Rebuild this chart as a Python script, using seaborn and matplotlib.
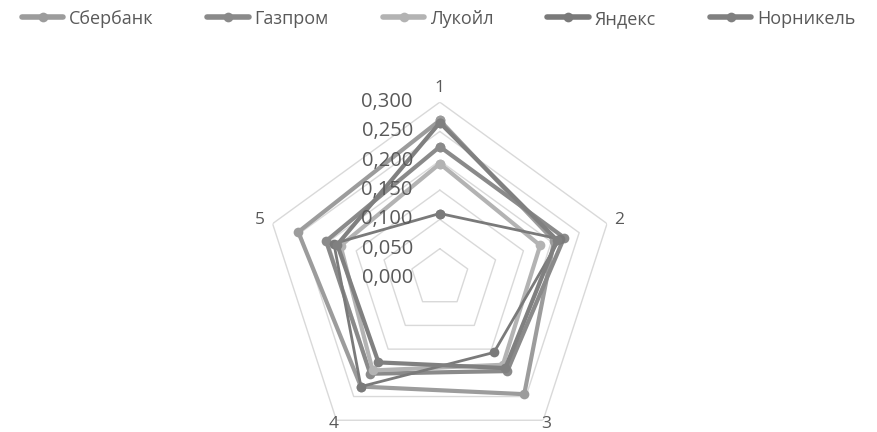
import numpy as np
import pandas as pd
import matplotlib
matplotlib.use("Agg")
import matplotlib.pyplot as plt
import seaborn as sns
from matplotlib.lines import Line2D

sns.set_style("white")
plt.rcParams['font.family'] = ['Open Sans', 'DejaVu Sans']

axis_labels = ["1", "2", "3", "4", "5"]
ticks = [0.0, 0.05, 0.10, 0.15, 0.20, 0.25, 0.30]
tick_labels = ["0,000", "0,050", "0,100", "0,150", "0,200", "0,250", "0,300"]

companies = ["Сбербанк", "Газпром", "Лукойл", "Яндекс", "Норникель"]
sber = [0.269, 0.205, 0.245, 0.229, 0.254]
gazprom = [0.224, 0.223, 0.196, 0.202, 0.204]
lukoil = [0.195, 0.180, 0.183, 0.195, 0.178]
yandex = [0.110, 0.215, 0.157, 0.229, 0.190]
nornikel = [0.265, 0.210, 0.190, 0.178, 0.184]
values = [sber, gazprom, lukoil, yandex, nornikel]

colors = {"Сбербанк": "#9c9c9c", "Газпром": "#8a8a8a", "Лукойл": "#b3b3b3",
          "Яндекс": "#7a7a7a", "Норникель": "#808080"}
widths = {"Сбербанк": 3.0, "Газпром": 3.0, "Лукойл": 3.0, "Яндекс": 2.0, "Норникель": 3.0}

angles = np.pi / 2 - np.arange(5) * 2 * np.pi / 5

rows = []
for name, vals in zip(companies, values):
    for i in list(range(5)) + [0]:
        rows.append({"company": name, "angle": angles[i], "value": vals[i]})
df = pd.DataFrame(rows)

fig = plt.figure(figsize=(8.77, 4.32), dpi=100)
ax = fig.add_axes([0.301, -0.051, 0.401, 0.815], projection="polar")

# pentagon grid
ring_ang = np.append(angles, angles[0])
for t in ticks[1:]:
    ax.plot(ring_ang, [t] * 6, color="#d9d9d9", lw=1, zorder=1)

for name in companies:
    sub = df[df["company"] == name]
    sns.lineplot(data=sub, x="angle", y="value", sort=False, ax=ax,
                 color=colors[name], lw=widths[name], marker="o",
                 markersize=7, markeredgewidth=0, zorder=3, estimator=None)

ax.set_ylim(0, 0.3)
ax.grid(False)
ax.spines["polar"].set_visible(False)
ax.set_xticks([])
ax.set_yticks([])
ax.set_xlabel("")
ax.set_ylabel("")

for t, lab in zip(ticks, tick_labels):
    ax.annotate(lab, xy=(np.pi / 2, t), xytext=(-27, 0), textcoords="offset pixels",
                ha="right", va="center", fontsize=14.5, color="#595959", zorder=5)

label_r = [0.324, 0.322, 0.308, 0.308, 0.322]
for a, lab, r in zip(angles, axis_labels, label_r):
    ax.text(a, r, lab, ha="center", va="center", fontsize=12.5, color="#595959")

handles = [Line2D([0], [0], color=colors[n], lw=4, marker="o", markersize=7,
                  markeredgewidth=0) for n in companies]
fig.legend(handles, companies, loc="upper center", bbox_to_anchor=(0.5, 1.015),
           ncol=5, frameon=False, fontsize=13, handlelength=2.3,
           columnspacing=3.0, labelcolor="#595959", handletextpad=0.3)

fig.savefig("out.png", dpi=100)
